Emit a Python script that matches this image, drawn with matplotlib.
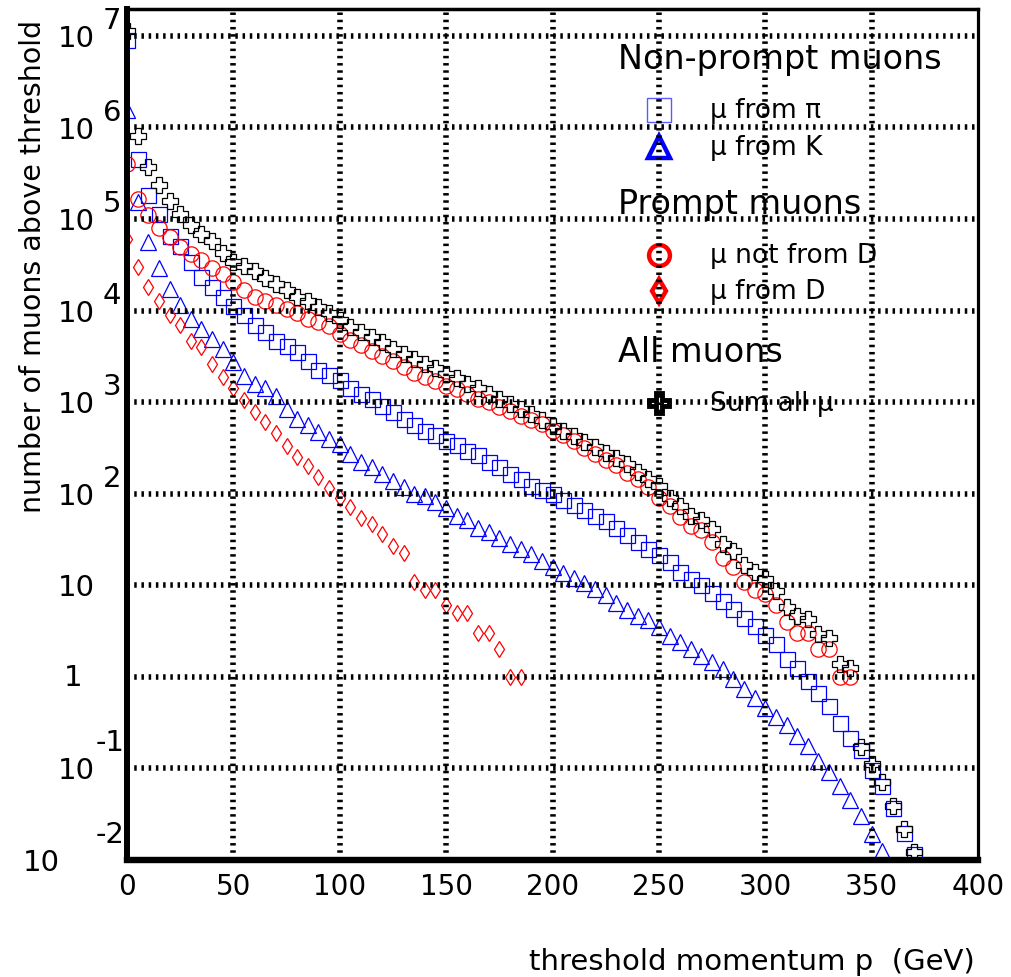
import numpy as np
import matplotlib
matplotlib.use("Agg")
import matplotlib.pyplot as plt

# threshold momentum (GeV), one point every 5 GeV
p_pi = np.arange(0, 371, 5)
p_K = np.arange(0, 356, 5)
p_nonD = np.arange(0, 341, 5)
p_D = np.arange(0, 186, 5)
p_sum = np.arange(0, 371, 5)

# log10(number of muons above threshold)
log_pi = [6.95, 5.66, 5.26, 5.05, 4.82, 4.71, 4.53, 4.37, 4.26, 4.15,
          4.05, 3.95, 3.84, 3.77, 3.67, 3.61, 3.55, 3.45, 3.35, 3.30,
          3.24, 3.15, 3.09, 3.04, 2.96, 2.89, 2.82, 2.75, 2.69, 2.64,
          2.58, 2.53, 2.47, 2.42, 2.35, 2.29, 2.22, 2.16, 2.09, 2.04,
          2.00, 1.93, 1.88, 1.82, 1.76, 1.70, 1.63, 1.55, 1.47, 1.40,
          1.33, 1.25, 1.15, 1.07, 1.00, 0.92, 0.83, 0.74, 0.64, 0.56,
          0.46, 0.36, 0.20, 0.10, -0.04, -0.18, -0.32, -0.50, -0.67, -0.80,
          -1.02, -1.19, -1.43, -1.70, -1.93]
log_K = [6.19, 5.19, 4.75, 4.46, 4.24, 4.06, 3.91, 3.80, 3.69, 3.58,
         3.44, 3.29, 3.20, 3.15, 3.07, 2.93, 2.82, 2.75, 2.67, 2.60,
         2.54, 2.43, 2.35, 2.29, 2.22, 2.14, 2.07, 2.00, 1.98, 1.91,
         1.84, 1.76, 1.71, 1.63, 1.58, 1.52, 1.45, 1.40, 1.34, 1.27,
         1.20, 1.13, 1.08, 1.02, 0.96, 0.89, 0.81, 0.73, 0.67, 0.62,
         0.54, 0.45, 0.38, 0.30, 0.23, 0.16, 0.09, -0.02, -0.13, -0.23,
         -0.34, -0.44, -0.53, -0.65, -0.76, -0.92, -1.04, -1.19, -1.35, -1.52,
         -1.72, -1.90]
log_nonD = [5.60, 5.22, 5.04, 4.90, 4.80, 4.69, 4.62, 4.55, 4.46, 4.40,
            4.31, 4.22, 4.15, 4.11, 4.06, 4.02, 3.97, 3.91, 3.88, 3.83,
            3.75, 3.68, 3.62, 3.56, 3.50, 3.45, 3.38, 3.32, 3.27, 3.23,
            3.18, 3.14, 3.09, 3.04, 3.00, 2.95, 2.90, 2.85, 2.80, 2.76,
            2.69, 2.64, 2.58, 2.50, 2.43, 2.37, 2.31, 2.23, 2.16, 2.07,
            1.95, 1.87, 1.75, 1.65, 1.60, 1.47, 1.30, 1.20, 1.04, 0.95,
            0.90, 0.78, 0.60, 0.48, 0.48, 0.30, 0.30, 0.00, 0.00]
log_D = [4.78, 4.48, 4.26, 4.11, 3.95, 3.84, 3.67, 3.60, 3.42, 3.27,
         3.15, 3.02, 2.89, 2.78, 2.66, 2.52, 2.40, 2.30, 2.18, 2.06,
         1.95, 1.85, 1.74, 1.67, 1.56, 1.43, 1.35, 1.04, 0.95, 0.95,
         0.78, 0.70, 0.70, 0.48, 0.48, 0.30, 0.00, 0.00]
log_sum = [7.05, 5.91, 5.57, 5.37, 5.20, 5.06, 4.93, 4.84, 4.76, 4.63,
           4.53, 4.49, 4.43, 4.36, 4.29, 4.23, 4.15, 4.10, 4.04, 3.97,
           3.90, 3.82, 3.77, 3.71, 3.66, 3.58, 3.53, 3.47, 3.42, 3.37,
           3.31, 3.26, 3.20, 3.15, 3.09, 3.04, 2.98, 2.93, 2.87, 2.80,
           2.74, 2.69, 2.63, 2.57, 2.51, 2.45, 2.39, 2.32, 2.24, 2.16,
           2.08, 1.95, 1.87, 1.76, 1.71, 1.62, 1.45, 1.38, 1.22, 1.14,
           1.07, 0.94, 0.76, 0.67, 0.63, 0.47, 0.42, 0.14, 0.10, -0.77,
           -0.95, -1.15, -1.41, -1.66, -1.91]

x_ticks = [0, 50, 100, 150, 200, 250, 300, 350, 400]
y_exps = [-2, -1, 0, 1, 2, 3, 4, 5, 6, 7]

W, H = 1011, 978
fig = plt.figure(figsize=(W / 100, H / 100), dpi=100)
L, R, B, T = 127, 978, 861, 10
ax = fig.add_axes([L / W, 1 - B / H, (R - L) / W, (B - T) / H])

blue = "#0000ff"
red = "#ff0000"
ax.plot(p_pi, 10.0 ** np.array(log_pi), ls="none", marker="s", ms=10.8,
        mfc="none", mec=blue, mew=0.9)
ax.plot(p_K, 10.0 ** np.array(log_K), ls="none", marker="^", ms=11,
        mfc="none", mec=blue, mew=0.9)
ax.plot(p_nonD, 10.0 ** np.array(log_nonD), ls="none", marker="o", ms=11,
        mfc="none", mec=red, mew=0.9)
ax.plot(p_D, 10.0 ** np.array(log_D), ls="none", marker="d", ms=8.6,
        mfc="none", mec=red, mew=0.9)
ax.plot(p_sum, 10.0 ** np.array(log_sum), ls="none", marker="P", ms=11.5,
        mfc="none", mec="black", mew=0.9)

ax.set_xlim(0, 400)
ax.set_yscale("log")
ax.set_ylim(1e-2, 10 ** 7.294)

# dotted grid drawn on top, like ROOT
for xv in x_ticks[1:-1]:
    ax.axvline(xv, color="black", lw=4, ls=(0, (0.45, 0.85)), zorder=4)
for e in y_exps[1:]:
    ax.axhline(10.0 ** e, color="black", lw=4, ls=(0, (0.45, 0.85)), zorder=4)

ax.set_xticks(x_ticks)
ax.set_xticklabels([str(v) for v in x_ticks], fontsize=20)
ax.set_yticks([10.0 ** e for e in y_exps])
ax.set_yticklabels([])
ax.yaxis.set_minor_locator(matplotlib.ticker.NullLocator())
ax.tick_params(axis="both", length=0, pad=9)

for side, lw in [("left", 4.3), ("bottom", 4.6), ("top", 2.5), ("right", 2.3)]:
    ax.spines[side].set_linewidth(lw)
    ax.spines[side].set_zorder(5)


def fx(px):
    return px / W


def fy(py):
    return 1 - py / H


# y tick labels in ROOT style: "10" with the exponent up and to the right
def y_of(e):
    return 861 - 91.56 * (e + 2)


fs_y = 21
for e in y_exps:
    yp = y_of(e)
    if e == 0:
        fig.text(fx(82), fy(yp), "1", ha="right", va="center", fontsize=fs_y)
    elif e >= 1:
        fig.text(fx(95), fy(yp + 2), "10", ha="right", va="center", fontsize=fs_y)
        if e > 1:
            fig.text(fx(103), fy(yp - 16), str(e), ha="left", va="center",
                     fontsize=fs_y)
    else:
        right = 95 if e == -1 else 60
        fig.text(fx(right), fy(yp + 2), "10", ha="right", va="center",
                 fontsize=fs_y)
        fig.text(fx(96), fy(yp - 26), str(e), ha="left", va="center",
                 fontsize=fs_y)

fig.text(fx(33), fy(20), "number of muons above threshold", rotation=90,
         ha="center", va="top", fontsize=20.5)
fig.text(fx(975), fy(962), "threshold momentum p  (GeV)", ha="right",
         va="center", fontsize=21)


# legend inside the frame (axes fraction from pixels)
def ax_pt(px, py):
    return (px - L) / (R - L), (B - py) / (B - T)


headers = [("Non-prompt muons", 60), ("Prompt muons", 205), ("All muons", 352)]
for txt, py in headers:
    ax.text(*ax_pt(618, py), txt, transform=ax.transAxes, ha="left",
            va="center", fontsize=24, zorder=1.5)

entries = [("μ from π", 111, "s", 17, 1.0, "#5a5aff", "none"),
           ("μ from K", 148, "^", 16, 3.2, blue, "none"),
           ("μ not from D", 256, "o", 15, 3.2, red, "none"),
           ("μ from D", 292, "d", 12, 3.2, red, "none"),
           ("Sum all μ", 404, "P", 15, 3.5, "black", "white")]
for txt, py, mk, ms, mew, col, fc in entries:
    mx, my = ax_pt(659, py)
    ax.plot([mx], [my], transform=ax.transAxes, marker=mk, ms=ms, mew=mew,
            mec=col, mfc=fc, ls="none", clip_on=False, zorder=1.5)
    ax.text(*ax_pt(710, py), txt, transform=ax.transAxes, ha="left",
            va="center", fontsize=19, zorder=1.5)

fig.savefig("out.png", dpi=100)
